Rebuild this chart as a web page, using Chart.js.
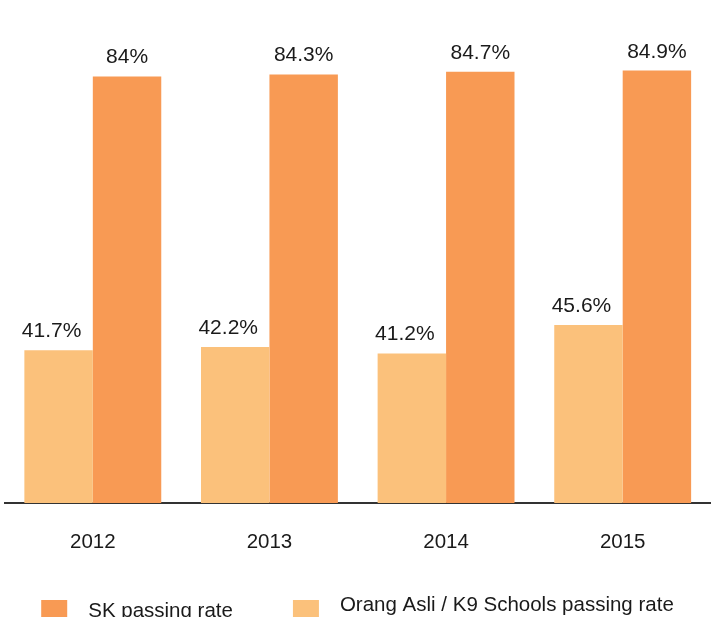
<!DOCTYPE html>
<html>
<head>
<meta charset="utf-8">
<title>Passing rates 2012–2015</title>
<script src="https://cdn.jsdelivr.net/npm/chart.js@4/dist/chart.umd.min.js"></script>
<style>
  html, body { margin: 0; padding: 0; background: #ffffff; overflow: hidden; }
  #wrap { position: relative; width: 711px; height: 617px; }
</style>
</head>
<body>
<div id="wrap"><canvas id="chart" width="711" height="617"></canvas></div>
<script>
// Exam passing rates by year (%)
const years = ['2012', '2013', '2014', '2015'];
const orangAsliRate = [41.7, 42.2, 41.2, 45.6];
const skRate = [84, 84.3, 84.7, 84.9];

const seriesNames = ['Orang Asli / K9 Schools passing rate', 'SK passing rate'];
const lightOrange = '#FBC17B';
const darkOrange = '#F89A54';
const FONT = "'Liberation Sans', Arial, Helvetica, sans-serif";

// Value labels above each bar
const valueLabels = {
  id: 'valueLabels',
  afterDatasetsDraw(chart) {
    const ctx = chart.ctx;
    ctx.save();
    ctx.font = '21px ' + FONT;
    ctx.fillStyle = '#1a1a1a';
    ctx.textAlign = 'center';
    ctx.textBaseline = 'alphabetic';
    chart.data.datasets.forEach((ds, di) => {
      const meta = chart.getDatasetMeta(di);
      const shift = di === 0 ? -7 : 0;
      meta.data.forEach((bar, i) => {
        ctx.fillText(ds.data[i] + '%', bar.x + shift, bar.y - 13);
      });
    });
    ctx.restore();
  }
};

// Legend row along the bottom edge, SK listed first
const bottomLegend = {
  id: 'bottomLegend',
  afterDraw(chart) {
    const ctx = chart.ctx;
    const box = 26, gapText = 21, gapItem = 60, top = 600;
    const baselines = [616.5, 611];
    const items = chart.data.datasets.map(ds => ({ text: ds.label, color: ds.backgroundColor })).reverse();
    ctx.save();
    ctx.font = '20.5px ' + FONT;
    const widths = items.map(it => ctx.measureText(it.text).width);
    let total = 0;
    items.forEach((it, i) => { total += box + gapText + widths[i]; });
    total += gapItem * (items.length - 1);
    let x = (chart.width - total) / 2 + 2;
    ctx.textAlign = 'left';
    ctx.textBaseline = 'alphabetic';
    items.forEach((it, i) => {
      ctx.fillStyle = it.color;
      ctx.fillRect(x, top, box, box);
      ctx.fillStyle = '#1a1a1a';
      ctx.fillText(it.text, x + box + gapText, baselines[i]);
      x += box + gapText + widths[i] + gapItem;
    });
    ctx.restore();
  }
};

new Chart(document.getElementById('chart'), {
  type: 'bar',
  data: {
    labels: years,
    datasets: [
      { label: seriesNames[0], data: orangAsliRate, backgroundColor: lightOrange },
      { label: seriesNames[1], data: skRate, backgroundColor: darkOrange }
    ]
  },
  options: {
    responsive: false,
    animation: false,
    devicePixelRatio: 1,
    layout: { padding: { top: 0, left: 4.5, right: 0, bottom: 35.4 } },
    datasets: { bar: { categoryPercentage: 0.775, barPercentage: 1.0, borderWidth: 0 } },
    scales: {
      x: {
        grid: { display: false, drawTicks: false, tickLength: 0 },
        border: { display: true, color: '#333333', width: 2 },
        ticks: { color: '#1a1a1a', font: { family: FONT, size: 20.5 }, padding: 27 }
      },
      y: {
        display: false,
        min: 18.1,
        max: 95.8
      }
    },
    plugins: {
      legend: { display: false },
      tooltip: { enabled: false }
    }
  },
  plugins: [valueLabels, bottomLegend]
});
</script>
</body>
</html>
